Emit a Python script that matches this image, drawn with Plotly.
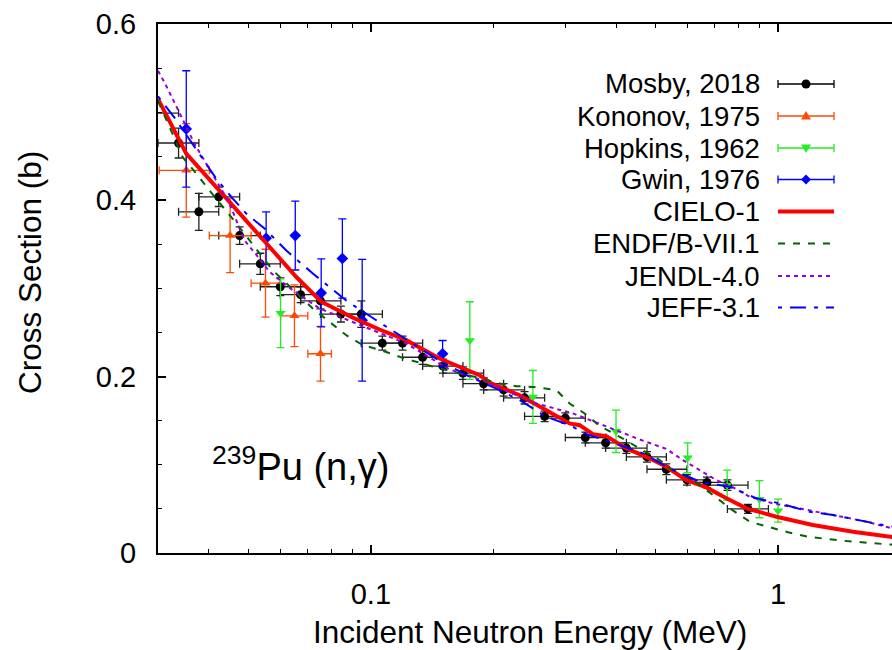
import math
import plotly.graph_objects as go

# ---------------- data ----------------
mosby_E = [0.029, 0.0337, 0.0378, 0.0423, 0.0476, 0.0535, 0.0599, 0.0672, 0.0752, 0.0844, 0.0947,
           0.1067, 0.1196, 0.134, 0.1503, 0.1683, 0.1892, 0.2118, 0.2385, 0.2671, 0.3003, 0.3362,
           0.3772, 0.4241, 0.4766, 0.5317, 0.5976, 0.669, 0.751, 0.8437]
mosby_lo = [0.0259, 0.0300, 0.0337, 0.0378, 0.0423, 0.0476, 0.0535, 0.0599, 0.0672, 0.0752, 0.0844,
            0.0947, 0.1067, 0.1196, 0.134, 0.1503, 0.1683, 0.1892, 0.2118, 0.2385, 0.2671, 0.3003,
            0.3362, 0.3772, 0.4241, 0.4766, 0.5317, 0.5976, 0.669, 0.751]
mosby_hi = [0.0337, 0.0378, 0.0423, 0.0476, 0.0535, 0.0599, 0.0672, 0.0752, 0.0844, 0.0947, 0.1067,
            0.1196, 0.134, 0.1503, 0.1683, 0.1892, 0.2118, 0.2385, 0.2671, 0.3003, 0.3362, 0.3772,
            0.4241, 0.4766, 0.5317, 0.5976, 0.669, 0.751, 0.8437, 0.947]
mosby_xs = [0.499, 0.465, 0.387, 0.404, 0.360, 0.328, 0.302, 0.293, 0.286, 0.271, 0.271,
            0.238, 0.238, 0.222, 0.212, 0.204, 0.192, 0.185, 0.176, 0.155, 0.153, 0.131,
            0.125, 0.119, 0.109, 0.095, 0.083, 0.080, 0.077, 0.050]
mosby_err = [0.010, 0.017, 0.021, 0.011, 0.010, 0.012, 0.010, 0.009, 0.009, 0.009, 0.015,
             0.008, 0.008, 0.008, 0.008, 0.007, 0.007, 0.007, 0.007, 0.006, 0.006, 0.006,
             0.006, 0.006, 0.006, 0.006, 0.006, 0.006, 0.006, 0.005]

kononov_E = [0.0352, 0.0451, 0.0551, 0.0649, 0.0752]
kononov_lo = [0.0302, 0.0401, 0.0508, 0.060, 0.070]
kononov_hi = [0.0401, 0.0508, 0.060, 0.070, 0.080]
kononov_xs = [0.434, 0.360, 0.306, 0.269, 0.226]
kononov_err = [0.053, 0.042, 0.0385, 0.035, 0.031]

hopkins_E = [0.060, 0.175, 0.250, 0.400, 0.600, 0.750, 0.900, 1.000]
hopkins_xs = [0.272, 0.241, 0.177, 0.138, 0.108, 0.077, 0.061, 0.048]
hopkins_err = [0.039, 0.044, 0.030, 0.024, 0.017, 0.017, 0.021, 0.013]

gwin_E = [0.0352, 0.0553, 0.0652, 0.0755, 0.0851, 0.0952, 0.150]
gwin_xs = [0.481, 0.357, 0.360, 0.295, 0.334, 0.264, 0.226]
gwin_err = [0.066, 0.030, 0.039, 0.0385, 0.045, 0.069, 0.015]

cielo_E = [0.03, 0.0352, 0.0450, 0.0513, 0.0574, 0.0656, 0.0755, 0.0903, 0.1050, 0.1221, 0.1475,
           0.1849, 0.1975, 0.2319, 0.2697, 0.3077, 0.3256, 0.3510, 0.3787, 0.4241, 0.4749, 0.5317,
           0.5955, 0.6668, 0.7468, 0.8362, 0.9908, 1.2173, 1.528, 1.905, 2.0]
cielo_xs = [0.515, 0.453, 0.398, 0.368, 0.343, 0.313, 0.285, 0.267, 0.2535, 0.2414, 0.2206,
            0.2017, 0.1923, 0.179, 0.162, 0.147, 0.145, 0.1348, 0.1326, 0.1186, 0.1091, 0.0978,
            0.0827, 0.0744, 0.062, 0.0506, 0.0411, 0.0317, 0.0241, 0.0178, 0.0168]

endf_E = [0.03, 0.0345, 0.0376, 0.0405, 0.0467, 0.0533, 0.0574, 0.0720, 0.0870, 0.0956, 0.1060,
          0.1198, 0.1330, 0.1475, 0.1798, 0.2071, 0.2276, 0.250, 0.2855, 0.3077, 0.335, 0.3646,
          0.4083, 0.4571, 0.5121, 0.5419, 0.6181, 0.6920, 0.7683, 0.8518, 0.9449, 1.058, 1.196,
          1.444, 1.857, 2.0]
endf_xs = [0.513, 0.449, 0.428, 0.409, 0.374, 0.340, 0.3207, 0.2773, 0.247, 0.2357, 0.230,
           0.2213, 0.215, 0.2093, 0.1998, 0.1923, 0.1892, 0.1884, 0.1847, 0.1696, 0.1583, 0.1442,
           0.1318, 0.1186, 0.1054, 0.096, 0.0827, 0.0657, 0.0495, 0.0355, 0.0295, 0.0235, 0.0181,
           0.0139, 0.0098, 0.0092]

jendl_E = [0.03, 0.0311, 0.0326, 0.0335, 0.0358, 0.0369, 0.0448, 0.0489, 0.0528, 0.0564, 0.0643,
           0.0748, 0.1011, 0.1221, 0.156, 0.19, 0.2118, 0.2548, 0.3135, 0.3787, 0.4571, 0.5317,
           0.584, 0.642, 0.7056, 0.7751, 0.8518, 0.972, 1.131, 1.365, 1.649, 1.905, 2.0]
jendl_xs = [0.547, 0.534, 0.515, 0.504, 0.477, 0.464, 0.398, 0.3547, 0.336, 0.3188, 0.298,
            0.2773, 0.2527, 0.2376, 0.2082, 0.195, 0.185, 0.1696, 0.1583, 0.1431, 0.1288, 0.118,
            0.1054, 0.094, 0.0827, 0.0744, 0.0638, 0.0563, 0.0506, 0.0431, 0.0355, 0.028, 0.0265]

jeff_E = [0.03, 0.0314, 0.0329, 0.0376, 0.0417, 0.0458, 0.0494, 0.0548, 0.0619, 0.0720, 0.0792,
          0.0878, 0.1031, 0.1221, 0.1475, 0.175, 0.2071, 0.2319, 0.2697, 0.3077, 0.3382, 0.4083,
          0.4660, 0.5419, 0.642, 0.7610, 0.885, 1.0095, 1.196, 1.365, 1.588, 1.811, 2.0]
jeff_xs = [0.518, 0.506, 0.494, 0.455, 0.4246, 0.402, 0.385, 0.368, 0.3433, 0.317, 0.302,
           0.285, 0.264, 0.242, 0.218, 0.200, 0.1847, 0.1734, 0.1545, 0.145, 0.1348, 0.1224,
           0.113, 0.096, 0.0808, 0.0751, 0.062, 0.0563, 0.0468, 0.0431, 0.0374, 0.0317, 0.029]

x_major = [0.1, 1]
x_major_text = ["0.1", "1"]
x_minor = [0.04, 0.05, 0.06, 0.07, 0.08, 0.09, 0.2, 0.3, 0.4, 0.5, 0.6, 0.7, 0.8, 0.9]
y_major = [0, 0.2, 0.4, 0.6]
y_major_text = ["0", "0.2", "0.4", "0.6"]

legend_names = ["Mosby, 2018", "Kononov, 1975", "Hopkins, 1962", "Gwin, 1976",
                "CIELO-1", "ENDF/B-VII.1", "JENDL-4.0", "JEFF-3.1"]

# ---------------- styles ----------------
C_MOSBY = "#000000"
C_KON = "#FF4A00"
C_HOP = "#22EE22"
C_GWIN = "#0000FF"
C_CIELO = "#FF0000"
C_ENDF = "#006400"
C_JENDL = "#9400D3"
C_JEFF = "#0000FF"
FONT = "Liberation Sans"

DASH_ENDF = "7px,8px"
DASH_JENDL = "4px,4px"
DASH_JEFF = "4px,8px,16px,8px"

W, H = 892, 650
L, R, T, B = 158, 0, 24, 97
PW, PH = W - L - R, H - T - B


def P(px):
    return (px - L) / PW


def Q(py):
    return (H - B - py) / PH


fig = go.Figure()


def err_pts(E, lo, hi):
    return [h - e for e, h in zip(E, hi)], [e - l for e, l in zip(E, lo)]


mp, mm = err_pts(mosby_E, mosby_lo, mosby_hi)
fig.add_trace(go.Scatter(
    x=mosby_E, y=mosby_xs, mode="markers", name=legend_names[0],
    marker=dict(symbol="circle", size=9, color=C_MOSBY),
    error_x=dict(type="data", symmetric=False, array=mp, arrayminus=mm, width=4,
                 thickness=1.3, color="#222222"),
    error_y=dict(type="data", array=mosby_err, width=4, thickness=1.3, color="#222222")))

kp, km = err_pts(kononov_E, kononov_lo, kononov_hi)
fig.add_trace(go.Scatter(
    x=kononov_E, y=kononov_xs, mode="markers", name=legend_names[1],
    marker=dict(symbol="triangle-up", size=9, color=C_KON),
    error_x=dict(type="data", symmetric=False, array=kp, arrayminus=km, width=4,
                 thickness=1.3, color=C_KON),
    error_y=dict(type="data", array=kononov_err, width=4, thickness=1.3, color=C_KON)))

fig.add_trace(go.Scatter(
    x=hopkins_E, y=hopkins_xs, mode="markers", name=legend_names[2],
    marker=dict(symbol="triangle-down", size=9, color=C_HOP),
    error_y=dict(type="data", array=hopkins_err, width=4, thickness=1.3, color=C_HOP)))

fig.add_trace(go.Scatter(
    x=gwin_E, y=gwin_xs, mode="markers", name=legend_names[3],
    marker=dict(symbol="diamond", size=9, color=C_GWIN),
    error_y=dict(type="data", array=gwin_err, width=4, thickness=1.3, color=C_GWIN)))

fig.add_trace(go.Scatter(x=cielo_E, y=cielo_xs, mode="lines", name=legend_names[4],
                         line=dict(color=C_CIELO, width=4)))
fig.add_trace(go.Scatter(x=endf_E, y=endf_xs, mode="lines", name=legend_names[5],
                         line=dict(color=C_ENDF, width=2, dash=DASH_ENDF)))
fig.add_trace(go.Scatter(x=jendl_E, y=jendl_xs, mode="lines", name=legend_names[6],
                         line=dict(color=C_JENDL, width=2, dash=DASH_JENDL)))
fig.add_trace(go.Scatter(x=jeff_E, y=jeff_xs, mode="lines", name=legend_names[7],
                         line=dict(color=C_JEFF, width=2, dash=DASH_JEFF)))

# ---------------- custom legend (text left of sample) ----------------
rows = [84, 116, 148, 179.5, 211.5, 243.5, 276, 307.5]
text_right = 762
s0, s1, smid = 778, 834, 806
shapes = []
annotations = []
for name, ry in zip(legend_names, rows):
    annotations.append(dict(text=name, x=P(text_right), y=Q(ry), xref="paper", yref="paper",
                            xanchor="right", yanchor="middle", showarrow=False,
                            font=dict(family=FONT, size=27.5, color="black")))

marker_specs = [
    (C_MOSBY, "circle"), (C_KON, "tri_up"), (C_HOP, "tri_down"), (C_GWIN, "diamond")]
for (col, sym), ry in zip(marker_specs, rows[:4]):
    shapes.append(dict(type="line", xref="paper", yref="paper", x0=P(s0), x1=P(s1),
                       y0=Q(ry), y1=Q(ry), line=dict(color=col, width=1.3)))
    for sx in (s0, s1):
        shapes.append(dict(type="line", xref="paper", yref="paper", x0=P(sx), x1=P(sx),
                           y0=Q(ry - 4), y1=Q(ry + 4), line=dict(color=col, width=1.3)))
    base = dict(xref="paper", yref="paper", xsizemode="pixel", ysizemode="pixel",
                xanchor=P(smid), yanchor=Q(ry), fillcolor=col, line=dict(color=col, width=0))
    if sym == "circle":
        shapes.append(dict(type="circle", x0=-4.5, x1=4.5, y0=-4.5, y1=4.5, **base))
    elif sym == "tri_up":
        shapes.append(dict(type="path", path="M-5,-3.5 L5,-3.5 L0,5 Z", **base))
    elif sym == "tri_down":
        shapes.append(dict(type="path", path="M-5,3.5 L5,3.5 L0,-5 Z", **base))
    else:
        shapes.append(dict(type="path", path="M-5,0 L0,5 L5,0 L0,-5 Z", **base))

line_specs = [(C_CIELO, 4, "solid"), (C_ENDF, 2, DASH_ENDF), (C_JENDL, 2, DASH_JENDL),
              (C_JEFF, 2, DASH_JEFF)]
for (col, w, d), ry in zip(line_specs, rows[4:]):
    shapes.append(dict(type="line", xref="paper", yref="paper", x0=P(s0), x1=P(s1),
                       y0=Q(ry), y1=Q(ry), line=dict(color=col, width=w, dash=d)))

# reaction label
annotations.append(dict(text="<sup>239</sup>Pu (n,γ)", x=P(210), y=Q(464), xref="paper",
                        yref="paper", xanchor="left", yanchor="middle", showarrow=False,
                        font=dict(family=FONT, size=38, color="black")))
# axis titles
annotations.append(dict(text="Incident Neutron Energy (MeV)", x=P(530), y=Q(632), xref="paper",
                        yref="paper", xanchor="center", yanchor="middle", showarrow=False,
                        font=dict(family=FONT, size=31.5, color="black")))
annotations.append(dict(text="Cross Section (b)", x=P(30), y=Q(273), xref="paper",
                        yref="paper", xanchor="center", yanchor="middle", showarrow=False,
                        textangle=-90, font=dict(family=FONT, size=31.5, color="black")))

fig.update_layout(
    width=W, height=H, margin=dict(l=L, r=R, t=T, b=B, pad=0),
    paper_bgcolor="white", plot_bgcolor="white", showlegend=False,
    font=dict(family=FONT, size=29, color="black"),
    shapes=shapes, annotations=annotations,
    xaxis=dict(type="log", range=[math.log10(0.03), math.log10(1.905)],
               tickvals=x_major, ticktext=x_major_text, ticks="inside", ticklen=8, tickwidth=1.5,
               tickcolor="black", showline=True, linewidth=2, linecolor="black", mirror="ticks",
               showgrid=False, zeroline=False, tickfont=dict(family=FONT, size=29),
               ticklabelstandoff=14,
               minor=dict(tickvals=x_minor, ticks="inside", ticklen=4, tickwidth=1,
                          tickcolor="black", showgrid=False)),
    yaxis=dict(range=[0, 0.6], tickvals=y_major, ticktext=y_major_text, ticks="inside",
               ticklen=8, tickwidth=1.5, tickcolor="black", showline=True, linewidth=2,
               linecolor="black", mirror=False, showgrid=False, zeroline=False,
               tickfont=dict(family=FONT, size=29), ticklabelstandoff=14,
               minor=dict(dtick=0.05, tick0=0, ticks="inside", ticklen=4, tickwidth=1,
                          tickcolor="black", showgrid=False)),
)

fig.write_html("out.html")
